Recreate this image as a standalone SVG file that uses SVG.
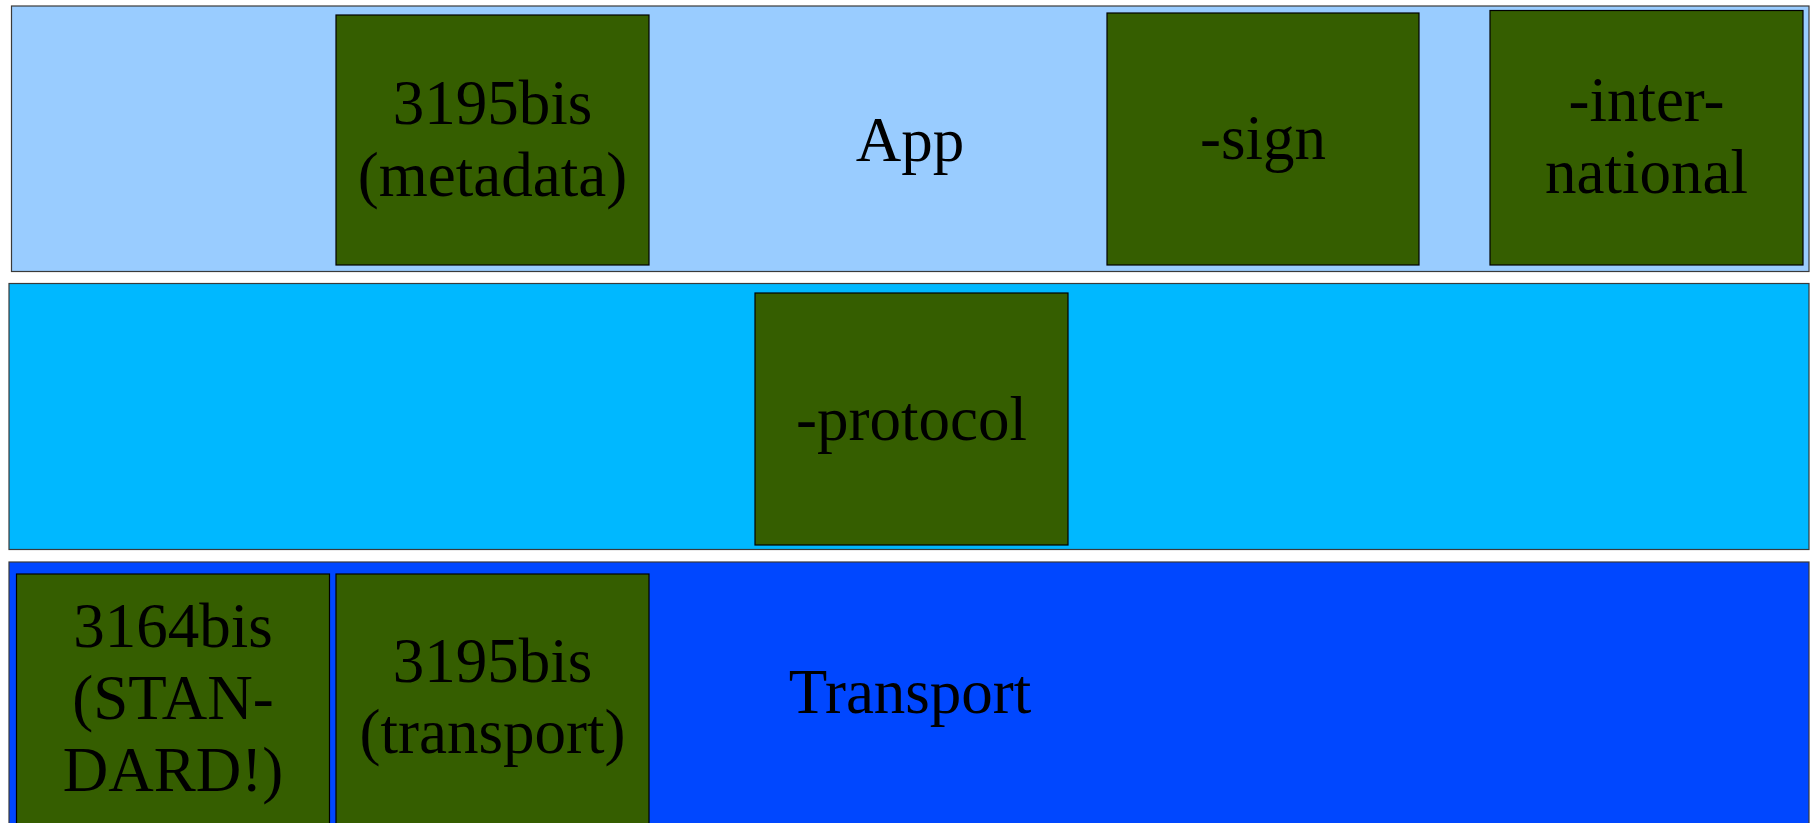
<svg xmlns="http://www.w3.org/2000/svg" width="1810" height="823" viewBox="0 0 1810 823">
<style>
.band{stroke:#3a3a3a;stroke-width:1.2}
.box{fill:#355e00;stroke:#000;stroke-width:1.2}
.t{font-family:"Liberation Serif","Times New Roman",serif;font-size:63px;fill:#000;text-anchor:middle}
</style>
<rect width="1810" height="823" fill="#fff"/>
<g id="band-app">
<rect class="band" x="11.5" y="6" width="1797.5" height="265.5" fill="#99ccff"/>
<text class="t" x="910" y="161">App</text>
</g>
<g id="band-mid">
<rect class="band" x="9" y="283.5" width="1800" height="266" fill="#00b8ff"/>
</g>
<g id="band-transport">
<rect class="band" x="9" y="562" width="1800" height="270" fill="#0047ff"/>
<text class="t" x="910" y="713">Transport</text>
</g>
<g id="box-3195-meta">
<rect class="box" x="336" y="15" width="313" height="250"/>
<text class="t" x="492.5" y="124">3195bis</text>
<text class="t" x="492.5" y="196">(metadata)</text>
</g>
<g id="box-sign">
<rect class="box" x="1107" y="13" width="312" height="252"/>
<text class="t" x="1263" y="159">-sign</text>
</g>
<g id="box-intl">
<rect class="box" x="1490" y="10.5" width="313" height="254.5"/>
<text class="t" x="1646.5" y="121">-inter-</text>
<text class="t" x="1646.5" y="193">national</text>
</g>
<g id="box-protocol">
<rect class="box" x="755" y="293" width="313" height="252"/>
<text class="t" x="911.5" y="440">-protocol</text>
</g>
<g id="box-3164">
<rect class="box" x="16.5" y="574" width="313" height="250"/>
<text class="t" x="173" y="647">3164bis</text>
<text class="t" x="173" y="719">(STAN-</text>
<text class="t" x="173" y="791">DARD!)</text>
</g>
<g id="box-3195-transport">
<rect class="box" x="336" y="574" width="313" height="250"/>
<text class="t" x="492.5" y="682">3195bis</text>
<text class="t" x="492.5" y="753">(transport)</text>
</g>
<g id="connectors"></g>
</svg>
